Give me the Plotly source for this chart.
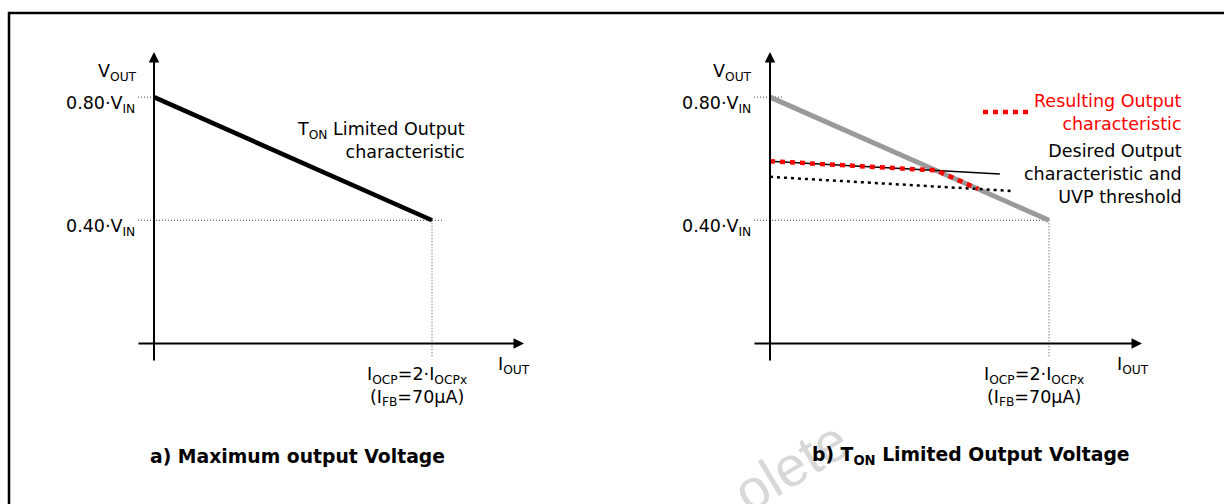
import plotly.graph_objects as go

# ---- data: output current normalised to I_OCP, output voltage as a fraction of V_IN ----
i_lim = [0.0, 1.0]
v_lim = [0.80, 0.40]                 # T_ON limited output characteristic

i_desired = [0.0, 0.824]
v_desired = [0.592, 0.550]           # desired output characteristic

i_uvp = [0.0, 0.871]
v_uvp = [0.541, 0.495]               # UVP threshold

i_result = [0.0, 0.596, 0.746]
v_result = [0.592, 0.562, 0.502]     # resulting output characteristic

v_ticks = [0.80, 0.40]
v_tick_labels = ["0.80·V<sub>IN</sub>", "0.40·V<sub>IN</sub>"]
i_tick = 1.0
i_tick_label = "I<sub>OCP</sub>=2·I<sub>OCPx</sub><br>(I<sub>FB</sub>=70µA)"
panel_titles = ["a) Maximum output Voltage", "b) T<sub>ON</sub> Limited Output Voltage"]

# ---- geometry ----
W, H = 1224, 504
X_RANGE = [-0.5, 1.5]
Y_RANGE = [-0.4, 1.0]
ORIGIN_X = [154, 770]      # pixel column of each panel's vertical axis
PX_PER_I = [278, 279]
ORIGIN_Y = 343.5           # pixel row of V = 0
PX_PER_V = 308

FONT = "DejaVu Sans"
FS = 17.5


def x_domain(p):
    return [(ORIGIN_X[p] + X_RANGE[0] * PX_PER_I[p]) / W,
            (ORIGIN_X[p] + X_RANGE[1] * PX_PER_I[p]) / W]


y_domain = [(H - (ORIGIN_Y - Y_RANGE[0] * PX_PER_V)) / H,
            (H - (ORIGIN_Y - Y_RANGE[1] * PX_PER_V)) / H]


def dx(p, px):
    """pixel column -> current value in panel p"""
    return (px - ORIGIN_X[p]) / PX_PER_I[p]


def dy(py):
    """pixel row -> voltage value"""
    return (ORIGIN_Y - py) / PX_PER_V


fig = go.Figure()
annotations = []

# faint background watermark
annotations.append(dict(
    xref="paper", yref="paper", x=790 / W, y=1 - 466 / H,
    text="olete", showarrow=False, textangle=-31,
    font=dict(family="Liberation Sans", size=56, color="#d8d8d8"),
    xanchor="center", yanchor="middle"))


def guide(p, xs, ys):
    fig.add_trace(go.Scatter(
        x=xs, y=ys, mode="lines", xaxis=f"x{p + 1 if p else ''}", yaxis=f"y{p + 1 if p else ''}",
        line=dict(color="#444444", width=1, dash="1px,2px"), hoverinfo="skip", showlegend=False))


for p in range(2):
    xa = "x" if p == 0 else "x2"
    ya = "y" if p == 0 else "y2"
    # dotted guides to the tick values
    guide(p, [dx(p, ORIGIN_X[p] - 16), 0.0 if p == 0 else dx(p, ORIGIN_X[p] + 12)], [v_ticks[0]] * 2)
    guide(p, [dx(p, ORIGIN_X[p] - 16), i_tick + (0.04 if p == 0 else 0.005)], [v_ticks[1]] * 2)
    guide(p, [i_tick, i_tick], [v_ticks[1], dy(357)])

    # axes with arrow heads
    annotations.append(dict(xref=xa, yref=ya, axref=xa, ayref=ya,
                            x=0, y=dy(52), ax=0, ay=dy(362), text="", showarrow=True,
                            arrowhead=2, arrowsize=1.05, arrowwidth=2, arrowcolor="black"))
    annotations.append(dict(xref=xa, yref=ya, axref=xa, ayref=ya,
                            x=dx(p, 524 if p == 0 else 1142), y=0, ax=dx(p, ORIGIN_X[p] - 17), ay=0,
                            text="", showarrow=True,
                            arrowhead=2, arrowsize=1.05, arrowwidth=2, arrowcolor="black"))

    # axis names and tick labels
    annotations.append(dict(xref=xa, yref=ya, x=dx(p, ORIGIN_X[p] - 37), y=dy(73),
                            text="V<sub>OUT</sub>", showarrow=False, xanchor="center", yanchor="middle",
                            font=dict(family=FONT, size=FS, color="black")))
    annotations.append(dict(xref=xa, yref=ya, x=dx(p, 532 if p == 0 else 1151), y=dy(365),
                            text="I<sub>OUT</sub>", showarrow=False, xanchor="right", yanchor="middle",
                            font=dict(family=FONT, size=FS, color="black")))
    for v, lab in zip(v_ticks, v_tick_labels):
        annotations.append(dict(xref=xa, yref=ya, x=dx(p, ORIGIN_X[p] - 17), y=v, yshift=-7,
                                text=lab, showarrow=False, xanchor="right", yanchor="middle",
                                font=dict(family=FONT, size=FS, color="black")))
    annotations.append(dict(xref=xa, yref=ya, x=i_tick, xshift=-15, y=dy(386),
                            text=i_tick_label, showarrow=False, xanchor="center", yanchor="middle",
                            font=dict(family=FONT, size=FS, color="black")))
    # panel caption
    annotations.append(dict(xref=xa, yref="paper", x=dx(p, 297 if p == 0 else 971), y=1 - 456 / H,
                            text=panel_titles[p], showarrow=False, xanchor="center", yanchor="middle",
                            font=dict(family=FONT, size=18.8, color="black", weight="bold")))

# ---- panel a ----
fig.add_trace(go.Scatter(x=i_lim, y=v_lim, mode="lines", xaxis="x", yaxis="y",
                         line=dict(color="black", width=4.5), hoverinfo="skip", showlegend=False))
annotations.append(dict(xref="x", yref="y", x=dx(0, 467), y=dy(140),
                        text="T<sub>ON</sub> Limited Output<br>characteristic", showarrow=False,
                        xanchor="right", yanchor="middle", align="right",
                        font=dict(family=FONT, size=FS, color="black")))

# ---- panel b ----
fig.add_trace(go.Scatter(x=i_lim, y=v_lim, mode="lines", xaxis="x2", yaxis="y2",
                         line=dict(color="#9a9a9a", width=5), hoverinfo="skip", showlegend=False))
fig.add_trace(go.Scatter(x=i_uvp, y=v_uvp, mode="lines", xaxis="x2", yaxis="y2",
                         line=dict(color="black", width=2.5, dash="3px,4px"),
                         hoverinfo="skip", showlegend=False))
fig.add_trace(go.Scatter(x=i_desired, y=v_desired, mode="lines", xaxis="x2", yaxis="y2",
                         line=dict(color="black", width=1.5), hoverinfo="skip", showlegend=False))
fig.add_trace(go.Scatter(x=i_result, y=v_result, mode="lines", xaxis="x2", yaxis="y2",
                         line=dict(color="#ff0000", width=4.5, dash="5px,5px"),
                         hoverinfo="skip", showlegend=False))
# key sample for the resulting characteristic
fig.add_trace(go.Scatter(x=[dx(1, 983), dx(1, 1032)], y=[dy(112), dy(112)], mode="lines",
                         xaxis="x2", yaxis="y2",
                         line=dict(color="#ff0000", width=4.5, dash="5px,5px"),
                         hoverinfo="skip", showlegend=False))
annotations.append(dict(xref="x2", yref="y2", x=dx(1, 1184), y=dy(113),
                        text="Resulting Output<br>characteristic", showarrow=False,
                        xanchor="right", yanchor="middle", align="right",
                        font=dict(family=FONT, size=FS, color="#ff0000")))
annotations.append(dict(xref="x2", yref="y2", x=dx(1, 1184), y=dy(174),
                        text="Desired Output<br>characteristic and<br>UVP threshold", showarrow=False,
                        xanchor="right", yanchor="middle", align="right",
                        font=dict(family=FONT, size=FS, color="black")))

axis_common = dict(visible=False, fixedrange=True, showgrid=False, zeroline=False)
fig.update_layout(
    width=W, height=H,
    margin=dict(l=0, r=0, t=0, b=0),
    paper_bgcolor="white", plot_bgcolor="rgba(0,0,0,0)",
    xaxis=dict(domain=x_domain(0), range=X_RANGE, **axis_common),
    yaxis=dict(domain=y_domain, range=Y_RANGE, **axis_common),
    xaxis2=dict(domain=x_domain(1), range=X_RANGE, **axis_common),
    yaxis2=dict(domain=y_domain, range=Y_RANGE, anchor="x2", **axis_common),
    annotations=annotations,
    shapes=[dict(type="rect", xref="paper", yref="paper",
                 x0=9 / W, x1=1.05, y0=-0.05, y1=1 - 13 / H,
                 line=dict(color="black", width=2.5), fillcolor="rgba(0,0,0,0)", layer="below")],
)
fig.update_layout(xaxis2_anchor="y2")

fig.write_html("out.html")
